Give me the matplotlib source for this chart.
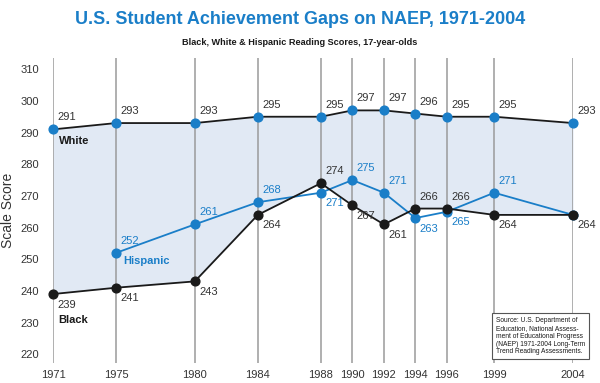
import matplotlib
matplotlib.use("Agg")
import matplotlib.pyplot as plt

# Datos (NAEP lectura, 17 años)
years = [1971, 1975, 1980, 1984, 1988, 1990, 1992, 1994, 1996, 1999, 2004]
white = [291, 293, 293, 295, 295, 297, 297, 296, 295, 295, 293]
black = [239, 241, 243, 264, 274, 267, 261, 266, 266, 264, 264]
hisp_years = [1975, 1980, 1984, 1988, 1990, 1992, 1994, 1996, 1999, 2004]
hispanic = [252, 261, 268, 271, 275, 271, 263, 265, 271, 264]

# posición de etiquetas: 'a' arriba, 'b' abajo, '' sin etiqueta
black_pos = ['b', 'b', 'b', 'b', 'a', 'b', 'b', 'a', 'a', 'b', 'b']
hisp_pos = ['a', 'a', 'a', 'b', 'a', 'a', 'b', 'b', 'a', '']

BLUE = '#1a7ec8'
DARK = '#1a1a1a'
FILL = '#e1e9f4'
GRID = '#9a9a9a'
LABEL = '#333333'

plt.rcParams['font.family'] = ['Liberation Sans', 'DejaVu Sans']

fig = plt.figure(figsize=(6, 3.83), dpi=100)
ax = fig.add_axes([0.0883, 0.052, 0.8667, 0.797])

ax.fill_between(years, black, white, color=FILL, lw=0, zorder=0)

for x in years:
    ax.axvline(x, color=GRID, lw=1.1, zorder=1)

ax.plot(years, white, color=DARK, lw=1.3, zorder=3, clip_on=False)
ax.plot(years, white, 'o', color=BLUE, ms=6.3, zorder=4, clip_on=False)
ax.plot(hisp_years, hispanic, '-o', color=BLUE, lw=1.3, ms=6.3, zorder=3, clip_on=False)
ax.plot(years, black, '-o', color=DARK, lw=1.3, ms=6.3, zorder=5, clip_on=False)


def etiquetas(xs, ys, pos, color):
    for x, y, p in zip(xs, ys, pos):
        if not p:
            continue
        if p == 'a':
            ax.annotate(str(y), (x, y), xytext=(3, 5), textcoords='offset points',
                        ha='left', va='bottom', fontsize=8, color=color, zorder=6)
        else:
            ax.annotate(str(y), (x, y), xytext=(3, -4), textcoords='offset points',
                        ha='left', va='top', fontsize=8, color=color, zorder=6)


etiquetas(years, white, ['a'] * len(years), LABEL)
etiquetas(years, black, black_pos, LABEL)
etiquetas(hisp_years, hispanic, hisp_pos, BLUE)

ax.annotate('White', (years[0], white[0]), xytext=(4, -5), textcoords='offset points',
            ha='left', va='top', fontsize=8, fontweight='bold', color=DARK)
ax.annotate('Black', (years[0], black[0]), xytext=(4, -15), textcoords='offset points',
            ha='left', va='top', fontsize=8, fontweight='bold', color=DARK)
ax.annotate('Hispanic', (hisp_years[0], hispanic[0]), xytext=(5, -2), textcoords='offset points',
            ha='left', va='top', fontsize=8, fontweight='bold', color=BLUE)

ax.set_xlim(1971, 2004)
ax.set_ylim(217.2, 313.6)
ax.set_xticks(years)
ax.set_xticklabels([str(y) for y in years])
ax.set_yticks(range(220, 311, 10))
ax.tick_params(length=0, labelsize=8, labelcolor=LABEL)
ax.tick_params(axis='y', pad=10)
ax.tick_params(axis='x', pad=5)
for s in ax.spines.values():
    s.set_visible(False)
ax.set_ylabel('Scale Score', fontsize=10, color=LABEL, labelpad=4)

fig.text(0.5, 0.948, 'U.S. Student Achievement Gaps on NAEP, 1971-2004',
         ha='center', va='center', fontsize=13, fontweight='bold', color=BLUE)
fig.text(0.5, 0.889, 'Black, White & Hispanic Reading Scores, 17-year-olds',
         ha='center', va='center', fontsize=6.6, fontweight='bold', color=DARK)

fig.text(0.826, 0.122,
         'Source: U.S. Department of\nEducation, National Assess-\nment of Educational Progress\n'
         '(NAEP) 1971-2004 Long-Term\nTrend Reading Assessments.',
         ha='left', va='center', fontsize=4.8, color=DARK, linespacing=1.15,
         bbox=dict(boxstyle='square,pad=0.6', fc='white', ec='#555555', lw=0.8), zorder=10)

fig.savefig('out.png', dpi=100)
